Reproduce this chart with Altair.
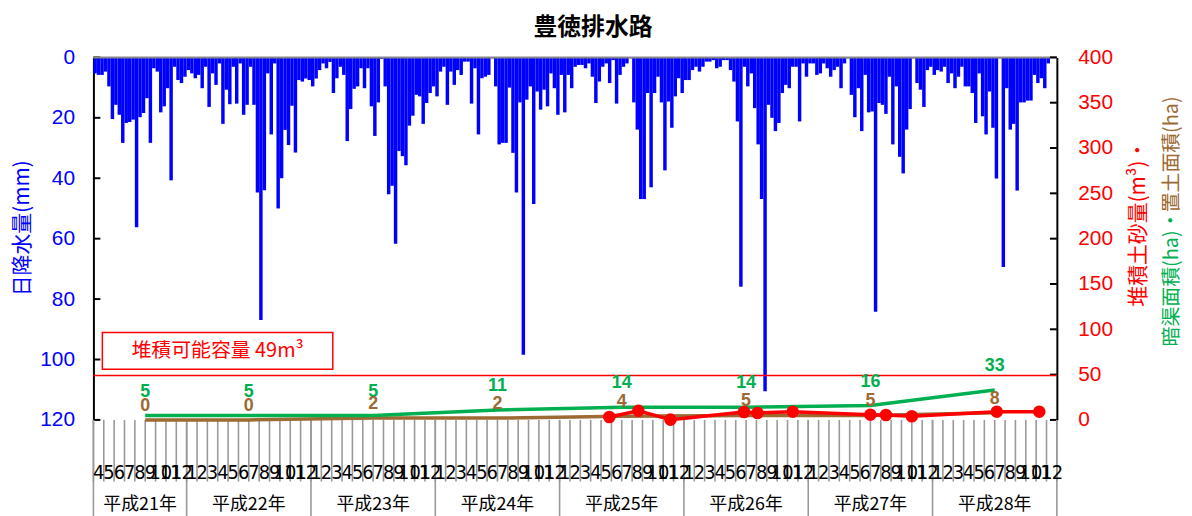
import altair as alt
import pandas as pd

# ---------------- data ----------------
# maximum daily rainfall (mm) in each 10-day period (旬), Apr 2009 - Dec 2016
rain_h21 = [5.3, 5.8, 5.8, 4.7, 9.6, 20.4, 15.7, 19, 28.3, 21.7, 21.4, 20.6, 56.2, 19.8, 18.4,
            13.5, 28.3, 3.6, 4.7, 18.2, 16.2, 10.2, 40.7, 3.1, 7.5, 8.5, 6.4]
rain_h22 = [4.2, 5.3, 6.9, 5.8, 10.2, 3.1, 16.4, 5.3, 9.1, 2, 22, 10.7, 15.5, 3.1, 15.3, 2, 19, 15.7,
            3.1, 15.7, 44.7, 86.9, 44, 5.3, 25.5, 2, 50, 40, 24, 29, 16, 31.5, 7.5, 8, 7, 7.5]
rain_h23 = [9.6, 7, 4.2, 2, 3.6, 1.5, 11.8, 6.9, 3.1, 5.8, 27.7, 17.1, 10.4, 9.6, 3.6, 10.2, 3.6, 16.2,
            26, 14.9, 0.5, 9.6, 45.3, 42.5, 61.7, 31, 32.7, 35.7, 22.6, 19.3, 12.4, 12.9, 22, 15.1, 11.8, 9.6]
rain_h24 = [12.9, 4.7, 3.1, 15.7, 4.7, 9.1, 4.2, 5.8, 1.4, 1.4, 15.3, 3.6, 25.5, 6.9, 6.4, 5.8, 0.3, 9.6,
            28.8, 28.3, 28.3, 10, 31.6, 44.7, 14.9, 98.4, 14, 9.6, 48.5, 11.3, 17.3, 10.7, 16.2, 5.3, 10.2, 19]
rain_h25 = [5.8, 18.2, 5.8, 10.2, 3.1, 2.5, 2.5, 3.6, 2, 6.4, 15.1, 8, 3.1, 2, 8.5, 0.9, 15.3, 5.8,
            3.1, 2, 0.3, 14.9, 23.9, 46.9, 46.9, 11.8, 43, 11.8, 6.4, 14.9, 37.4, 14.6, 23.3, 12.9, 6.9, 11.8]
rain_h26 = [7.5, 7.5, 4.2, 3.1, 4.7, 3.1, 1.4, 1.4, 0.9, 3.6, 3.1, 0.9, 0.9, 4.2, 8, 21.2, 75.9, 3.1,
            9.6, 5.3, 16.8, 28.8, 46.9, 110.5, 15.7, 20, 24.4, 21.7, 11.8, 9.1, 10.2, 3.1, 3.1, 21.2, 2, 6.4]
rain_h27 = [2, 2, 5.8, 5.3, 2, 3.6, 6.4, 4.2, 3.1, 10.2, 2, 0.3, 12.4, 19.8, 10.2, 24.4, 5.8, 18.2,
            17.9, 84.2, 15.1, 15.7, 18.7, 6.4, 28.8, 9.6, 32.9, 38.4, 23.9, 17.1, 0.3, 8.5, 10.7, 16.4, 4.2, 3.1]
rain_h28 = [5.8, 4.2, 4.7, 3.1, 8.5, 5.3, 10.2, 6.4, 3.1, 9.6, 9.6, 11.8, 21.7, 5.3, 19.5, 25.5, 11.3, 23.3,
            40.1, 0.3, 69.4, 10.2, 23.9, 22, 44.1, 14.9, 14.9, 14.3, 14.3, 5.8, 8.5, 6.9, 10.2, 2, 0, 0]

# x positions are in months counted from 2009-04-01
sed_month = [49.8, 52.6, 55.7, 62.8, 64.1, 67.5, 75.0, 76.5, 79.0, 87.2, 91.3]
sed_m3 = [3.3, 10.2, 0.3, 8.8, 7.7, 9.1, 5.8, 5.5, 4.1, 9.1, 9.1]          # 堆積土砂量 (m3)

area_month = [5, 15, 27, 39, 51, 63, 75, 87]
culvert_ha = [5, 5, 5, 11, 14, 14, 16, 33]                                   # 暗渠面積 (ha)
soil_ha = [0, 0, 2, 2, 4, 5, 5, 8]                                            # 置土面積 (ha)

capacity = 49                                                                 # 堆積可能容量 (m3)

month_labels = [4, 5, 6, 7, 8, 9, 10, 11, 12] + list(range(1, 13)) * 7
year_labels = ["平成21年", "平成22年", "平成23年", "平成24年", "平成25年", "平成26年", "平成27年", "平成28年"]
year_bounds = [0, 9, 21, 33, 45, 57, 69, 81, 93]

left_ticks = [0, 20, 40, 60, 80, 100, 120]
right_ticks = [0, 50, 100, 150, 200, 250, 300, 350, 400]

# ---------------- styling ----------------
W, H = 970, 365
BLUE, RED, GREEN, BROWN = "#0000ff", "#ff0000", "#00b050", "#9c6a32"
JP = "Noto Sans CJK JP"
NUM = "Liberation Sans"
NARROW = "Liberation Sans Narrow, DejaVu Sans Condensed, Liberation Sans"

rain_all = rain_h21 + rain_h22 + rain_h23 + rain_h24 + rain_h25 + rain_h26 + rain_h27 + rain_h28
rain_df = pd.DataFrame({
    "m0": [k / 3 for k in range(len(rain_all))],
    "m1": [(k + 1) / 3 for k in range(len(rain_all))],
    "rain": rain_all,
    "zero": [0] * len(rain_all),
})
sed_df = pd.DataFrame({"m": sed_month, "v": sed_m3})
area_df = pd.DataFrame({"m": area_month, "culvert": culvert_ha, "soil": soil_ha,
                        "culvert_t": [str(v) for v in culvert_ha], "soil_t": [str(v) for v in soil_ha]})
month_df = pd.DataFrame({"c": [i + 0.5 for i in range(len(month_labels))],
                         "lab": [str(v) for v in month_labels]})
tick_df = pd.DataFrame({"m": list(range(len(month_labels) + 1))})
yb_df = pd.DataFrame({"m": year_bounds})
yc_df = pd.DataFrame({"c": [(year_bounds[i] + year_bounds[i + 1]) / 2 for i in range(len(year_labels))],
                      "lab": year_labels})
one = pd.DataFrame({"a": [0]})

xs = alt.Scale(domain=[0, 93], nice=False, zero=False)
yl = alt.Scale(domain=[0, 120], reverse=True, nice=False, zero=False)
yr = alt.Scale(domain=[0, 400], nice=False, zero=False)

left_axis = alt.Axis(orient="left", values=left_ticks, title=None, grid=False, ticks=False, tickSize=0,
                     labelColor=BLUE, labelFont=NUM, labelFontSize=21, labelPadding=19,
                     domainColor="black", domainWidth=2)
right_axis = alt.Axis(orient="right", values=right_ticks, title=None, grid=False, ticks=False, tickSize=0,
                      labelColor=RED, labelFont=NUM, labelFontSize=21, labelPadding=21,
                      domainColor="black", domainWidth=2)

# ---------------- left (rain) group ----------------
bars = alt.Chart(rain_df).mark_rect(color=BLUE).encode(
    x=alt.X("m0:Q", scale=xs, axis=None), x2="m1",
    y=alt.Y("rain:Q", scale=yl, axis=left_axis), y2="zero")
lticks = alt.Chart(pd.DataFrame({"rain": left_ticks})).mark_rule(color="black", strokeWidth=2).encode(
    y=alt.Y("rain:Q", scale=yl, axis=left_axis), x=alt.value(0), x2=alt.value(7))
top_line = alt.Chart(one).mark_rule(color="#888888", strokeWidth=2).encode(
    x=alt.value(0), x2=alt.value(W), y=alt.value(0))
left_group = alt.layer(bars, lticks, top_line)

# ---------------- right group ----------------
rticks = alt.Chart(pd.DataFrame({"v": right_ticks})).mark_rule(color="black", strokeWidth=2).encode(
    y=alt.Y("v:Q", scale=yr, axis=right_axis), x=alt.value(W - 7), x2=alt.value(W))
cap_line = alt.Chart(pd.DataFrame({"v": [capacity]})).mark_rule(color=RED, strokeWidth=1.5).encode(
    y=alt.Y("v:Q", scale=yr, axis=right_axis))
box = alt.Chart(one).mark_rect(fill="white", stroke=RED, strokeWidth=1.5).encode(
    x=alt.value(9), x2=alt.value(241), y=alt.value(277), y2=alt.value(314))
box_text = alt.Chart(one).mark_text(font=JP, fontSize=20, color=RED, align="center", baseline="middle").encode(
    x=alt.value(125), y=alt.value(296), text=alt.value(f"堆積可能容量 {capacity}m³"))

soil_line = alt.Chart(area_df).mark_line(color=BROWN, strokeWidth=3.5).encode(
    x=alt.X("m:Q", scale=xs, axis=None), y=alt.Y("soil:Q", scale=yr, axis=right_axis))
culv_line = alt.Chart(area_df).mark_line(color=GREEN, strokeWidth=3.5).encode(
    x=alt.X("m:Q", scale=xs, axis=None), y=alt.Y("culvert:Q", scale=yr, axis=right_axis))
sed_line = alt.Chart(sed_df).mark_line(color=RED, strokeWidth=3.5).encode(
    x=alt.X("m:Q", scale=xs, axis=None), y=alt.Y("v:Q", scale=yr, axis=right_axis))
sed_pts = alt.Chart(sed_df).mark_circle(color=RED, size=160, opacity=1).encode(
    x=alt.X("m:Q", scale=xs, axis=None), y=alt.Y("v:Q", scale=yr, axis=right_axis))
culv_lab = alt.Chart(area_df).mark_text(font=NUM, fontSize=18, fontWeight="bold", color=GREEN,
                                        baseline="middle", dy=-24).encode(
    x=alt.X("m:Q", scale=xs, axis=None), y=alt.Y("culvert:Q", scale=yr, axis=right_axis), text="culvert_t:N")
soil_lab = alt.Chart(area_df).mark_text(font=NUM, fontSize=18, fontWeight="bold", color=BROWN,
                                        baseline="middle", dy=-14).encode(
    x=alt.X("m:Q", scale=xs, axis=None), y=alt.Y("soil:Q", scale=yr, axis=right_axis), text="soil_t:N")

# x axis drawn by hand: month cells, month labels, year cells
m_ticks = alt.Chart(tick_df).mark_rule(color="#999999", strokeWidth=1.6).encode(
    x=alt.X("m:Q", scale=xs, axis=None), y=alt.value(H), y2=alt.value(H + 62))
y_ticks = alt.Chart(yb_df).mark_rule(color="#999999", strokeWidth=1.6).encode(
    x=alt.X("m:Q", scale=xs, axis=None), y=alt.value(H), y2=alt.value(H + 100))
m_labels = alt.Chart(month_df).mark_text(font=NARROW, fontSize=20, color="black", baseline="middle").encode(
    x=alt.X("c:Q", scale=xs, axis=None), y=alt.value(418), text="lab:N")
y_labels = alt.Chart(yc_df).mark_text(font=JP, fontSize=18, color="black", baseline="middle").encode(
    x=alt.X("c:Q", scale=xs, axis=None), y=alt.value(451), text="lab:N")

# titles
title = alt.Chart(one).mark_text(font=JP, fontSize=24, fontWeight="bold", color="black",
                                 align="center", baseline="middle").encode(
    x=alt.value(503), y=alt.value(-30), text=alt.value("豊徳排水路"))
ltitle = alt.Chart(one).mark_text(font=JP, fontSize=21, color=BLUE, angle=270,
                                  align="center", baseline="middle").encode(
    x=alt.value(-71), y=alt.value(172), text=alt.value("日降水量(mm)"))
rtitle1 = alt.Chart(one).mark_text(font=JP, fontSize=21, color=RED, angle=270,
                                   align="left", baseline="middle").encode(
    x=alt.value(1053), y=alt.value(251), text=alt.value("堆積土砂量(m³)・"))
rtitle2 = alt.Chart(one).mark_text(font=JP, fontSize=20, color=GREEN, angle=270,
                                   align="left", baseline="middle").encode(
    x=alt.value(1086), y=alt.value(291), text=alt.value("暗渠面積(ha)・"))
rtitle3 = alt.Chart(one).mark_text(font=JP, fontSize=20, color=BROWN, angle=270,
                                   align="left", baseline="middle").encode(
    x=alt.value(1086), y=alt.value(156), text=alt.value("置土面積(ha)"))

right_group = alt.layer(rticks, cap_line, box, box_text, m_ticks, y_ticks, m_labels, y_labels,
                        soil_line, culv_line, sed_line, sed_pts, culv_lab, soil_lab,
                        title, ltitle, rtitle1, rtitle2, rtitle3)

chart = alt.layer(left_group, right_group).resolve_scale(y="independent").properties(
    width=W, height=H,
    autosize=alt.AutoSizeParams(type="none"),
    padding={"left": 86, "top": 48, "right": 128, "bottom": 95},
    background="white",
).configure_view(stroke=None)

chart.save("out.html", embed_options={"renderer": "svg", "actions": False})
